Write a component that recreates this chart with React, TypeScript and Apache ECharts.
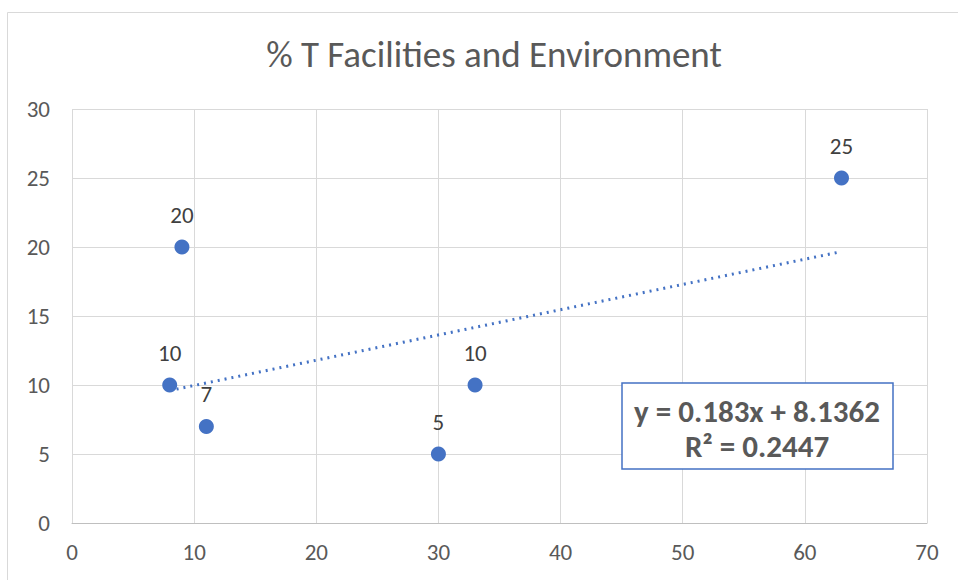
import React, { useEffect, useRef } from "react";
import * as echarts from "echarts";

const titleText = "% T Facilities and Environment";
const xValues = [8, 9, 11, 30, 33, 63];
const yValues = [10, 20, 7, 5, 10, 25];
const trendSlope = 0.183;
const trendIntercept = 8.1362;
const rSquared = 0.2447;
const trendRange = [8, 63];

const FONT = "Carlito, 'Open Sans', sans-serif";

export default function App() {
  const ref = useRef<HTMLDivElement>(null);
  useEffect(() => {
    if (!ref.current) return;
    const chart = echarts.init(ref.current, null, { renderer: "svg" });
    const blue = "#4472C4";
    const trendData = trendRange.map((x) => [x, trendSlope * x + trendIntercept]);
    chart.setOption({
      animation: false,
      backgroundColor: "#fff",
      title: {
        text: titleText,
        left: 489,
        top: 31,
        textAlign: "center",
        textStyle: { fontFamily: FONT, fontSize: 37, fontWeight: "normal", color: "#595959" },
      },
      grid: { left: 72, right: 31, top: 109, bottom: 57, containLabel: false },
      xAxis: {
        type: "value",
        min: 0,
        max: 70,
        interval: 10,
        axisLine: { show: true, onZero: false, lineStyle: { color: "#bfbfbf", width: 1 } },
        axisTick: { show: false },
        splitLine: { show: true, lineStyle: { color: "#d9d9d9", width: 1 } },
        axisLabel: { color: "#595959", fontFamily: FONT, fontSize: 23, margin: 17 },
      },
      yAxis: {
        type: "value",
        min: 0,
        max: 30,
        interval: 5,
        axisLine: { show: false },
        axisTick: { show: false },
        splitLine: { show: true, lineStyle: { color: "#d9d9d9", width: 1 } },
        axisLabel: { color: "#595959", fontFamily: FONT, fontSize: 23, margin: 22 },
      },
      series: [
        {
          type: "line",
          data: trendData,
          showSymbol: false,
          symbol: "none",
          lineStyle: { color: blue, width: 3, type: [2, 5] },
          silent: true,
          z: 1,
        },
        {
          type: "scatter",
          data: xValues.map((x, i) => [x, yValues[i]]),
          symbolSize: 15,
          itemStyle: { color: blue, opacity: 1 },
          label: {
            show: true,
            position: "top",
            distance: 13,
            formatter: (p: any) => String(p.value[1]),
            color: "#404040",
            fontFamily: FONT,
            fontSize: 23,
          },
          z: 3,
        },
      ],
      graphic: [
        {
          type: "rect",
          left: 5,
          top: 10,
          shape: { width: 1000, height: 600 },
          style: { fill: "none", stroke: "#d9d9d9", lineWidth: 1 },
          silent: true,
          z: -1,
        },
        {
          type: "rect",
          shape: { x: 622, y: 383, width: 271, height: 86 },
          style: { fill: "#fff", stroke: blue, lineWidth: 1.5 },
          z: 10,
        },
        {
          type: "text",
          x: 757,
          y: 428,
          style: {
            text: `y = ${trendSlope}x + ${trendIntercept}\nR² = ${rSquared}`,
            fill: "#595959",
            font: `bold 31px ${FONT}`,
            lineHeight: 35,
            align: "center",
            verticalAlign: "middle",
          },
          z: 11,
        },
      ],
    });
    return () => chart.dispose();
  }, []);
  return (
    <div
      ref={ref}
      style={{ position: "fixed", left: 0, top: 0, width: 958, height: 580 }}
    />
  );
}
